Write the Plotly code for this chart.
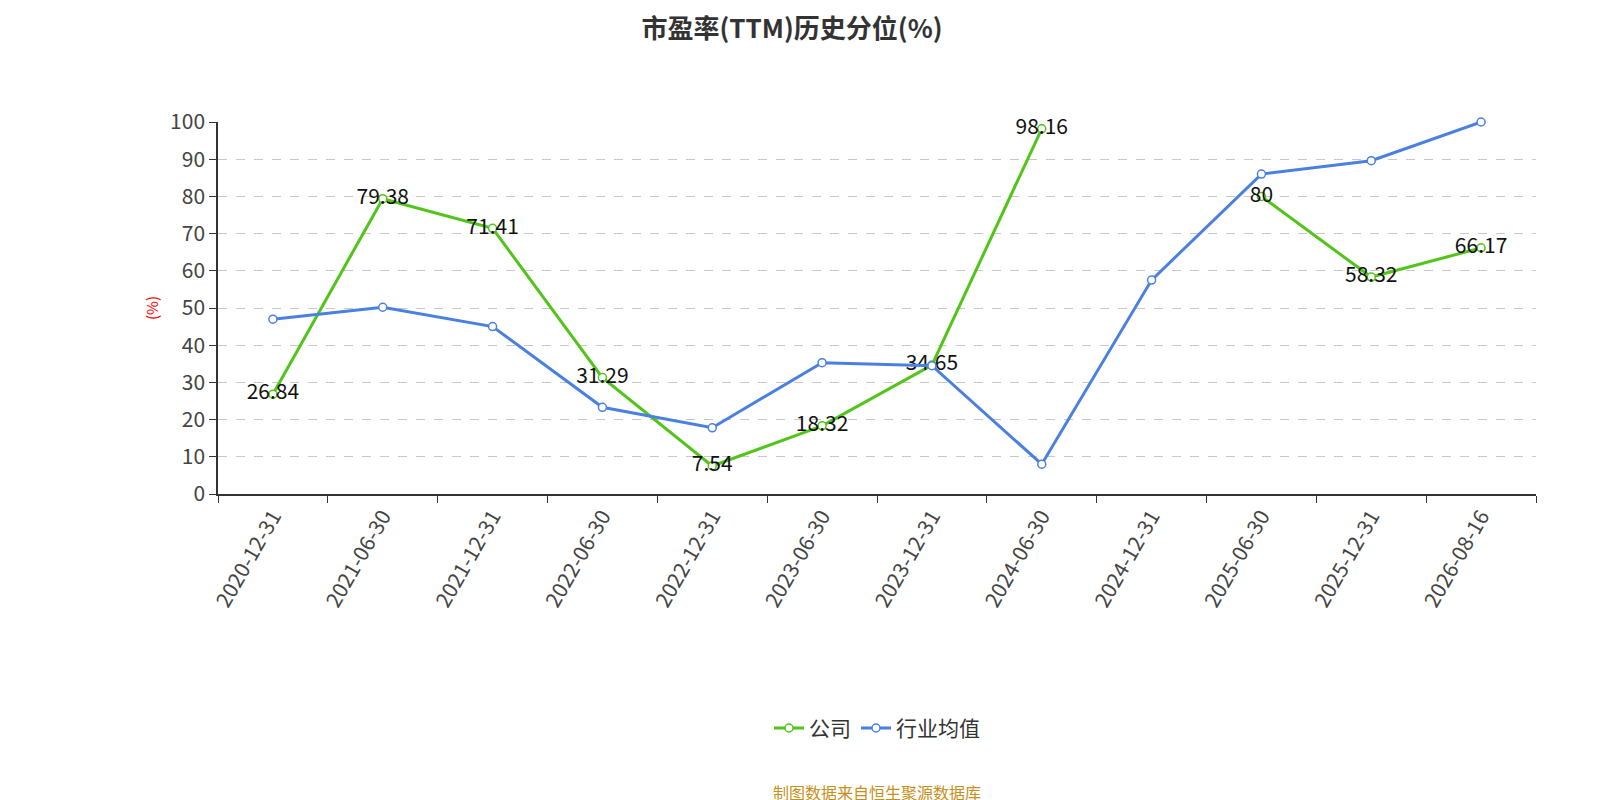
import plotly.graph_objects as go

dates = ["2020-12-31", "2021-06-30", "2021-12-31", "2022-06-30", "2022-12-31", "2023-06-30",
         "2023-12-31", "2024-06-30", "2024-12-31", "2025-06-30", "2025-12-31", "2026-08-16"]
company = [26.84, 79.38, 71.41, 31.29, 7.54, 18.32, 34.65, 98.16, None, 80, 58.32, 66.17]
industry = [47.0, 50.2, 45.0, 23.3, 17.8, 35.3, 34.5, 8.0, 57.5, 86.0, 89.6, 100.0]

labels = ["" if v is None else f"{v:g}" for v in company]

fig = go.Figure()
fig.add_trace(go.Scatter(x=dates, y=company, name="公司", mode="lines+markers+text",
                         text=labels, textposition="middle center", cliponaxis=False,
                         textfont=dict(size=21, color="#111"),
                         line=dict(color="#52c41a", width=3),
                         marker=dict(size=8, color="white", line=dict(color="#52c41a", width=1.5))))
fig.add_trace(go.Scatter(x=dates, y=industry, name="行业均值", mode="lines+markers", cliponaxis=False,
                         line=dict(color="#4a80e0", width=3),
                         marker=dict(size=8, color="white", line=dict(color="#4a80e0", width=1.5))))

fig.update_layout(
    width=1600, height=800, plot_bgcolor="white", paper_bgcolor="white",
    font=dict(family="Noto Sans CJK SC", color="#333"),
    title=dict(text="<b>市盈率(TTM)历史分位(%)</b>", x=0.49, y=0.985, xanchor="center",
               font=dict(size=26, color="#333")),
    margin=dict(l=210, r=72, t=114, b=314),
    xaxis=dict(type="category", tickson="boundaries", range=[-0.5, 11.5], tickangle=-60,
               showline=True, linecolor="#333", linewidth=1.5, ticks="outside", ticklen=7,
               tickcolor="#333", tickfont=dict(size=21, color="#444"), showgrid=False),
    yaxis=dict(range=[0, 100], dtick=10, showline=True, linecolor="#333", linewidth=1.5,
               ticks="outside", ticklen=7, tickcolor="#333", tickfont=dict(size=21, color="#444"),
               gridcolor="#c8c8c8", griddash="dash", zeroline=False,
               title=dict(text="(%)", font=dict(size=15, color="red"), standoff=8)),
    legend=dict(orientation="h", x=0.5, xanchor="center", y=-0.63, yanchor="middle",
                font=dict(size=21, color="#333")),
    showlegend=True,
)
fig.add_annotation(text="制图数据来自恒生聚源数据库", xref="paper", yref="paper", x=0.5, y=-0.8,
                   yanchor="middle", showarrow=False, font=dict(size=16, color="#c8901a"))

fig.write_html("out.html")
